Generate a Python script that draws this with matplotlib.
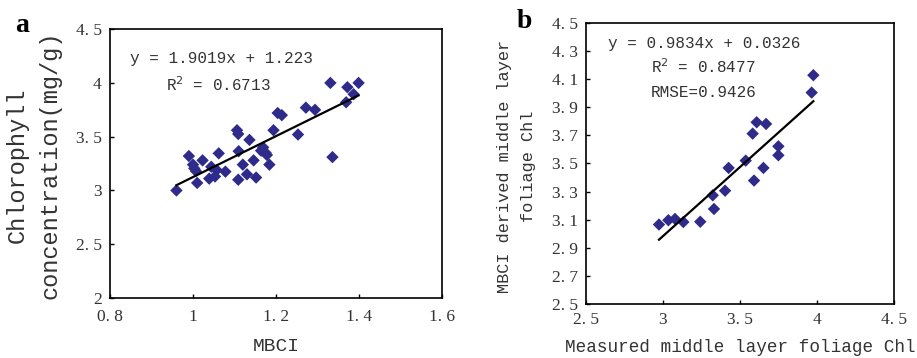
import matplotlib.pyplot as plt
import numpy as np

# panel a: MBCI vs chlorophyll concentration
mbci = [0.96, 0.99, 1.00, 1.003, 1.007, 1.01, 1.023, 1.039, 1.044, 1.053,
        1.057, 1.062, 1.078, 1.106, 1.109, 1.110, 1.109, 1.120, 1.130, 1.136,
        1.146, 1.152, 1.164, 1.169, 1.175, 1.178, 1.184, 1.194, 1.204, 1.214,
        1.253, 1.272, 1.294, 1.331, 1.336, 1.369, 1.372, 1.387, 1.399]
chl = [3.00, 3.32, 3.24, 3.205, 3.18, 3.07, 3.28, 3.11, 3.22, 3.13,
       3.19, 3.345, 3.175, 3.56, 3.525, 3.365, 3.10, 3.24, 3.15, 3.47,
       3.28, 3.12, 3.37, 3.40, 3.35, 3.33, 3.24, 3.56, 3.72, 3.70,
       3.52, 3.77, 3.75, 4.00, 3.31, 3.82, 3.96, 3.895, 4.00]
fit_a = (1.9019, 1.223)

# panel b: measured vs MBCI derived middle layer Chl
measured = [2.974, 3.035, 3.078, 3.132, 3.242, 3.323, 3.331, 3.403, 3.426, 3.537,
            3.582, 3.591, 3.608, 3.652, 3.669, 3.749, 3.749, 3.965, 3.976]
derived = [3.065, 3.096, 3.105, 3.083, 3.085, 3.273, 3.176, 3.306, 3.468, 3.520,
           3.712, 3.378, 3.793, 3.468, 3.781, 3.622, 3.558, 4.004, 4.128]
fit_b = (0.9834, 0.0326)

MONO = ['Liberation Mono', 'DejaVu Sans Mono']
SERIF = ['Liberation Serif', 'DejaVu Serif']
COL = '#2E2B8A'
TXT = '#333333'

fig = plt.figure(figsize=(9.17, 3.58), dpi=100)
ax1 = fig.add_axes([0.12, 0.1676, 0.362, 0.751])
ax2 = fig.add_axes([0.639, 0.151, 0.336, 0.785])


def style(ax, xt, yt, xfmt, yfmt, xpad, ypad):
    ax.set_xticks(xt)
    ax.set_yticks(yt)
    ax.set_xticklabels([xfmt(v) for v in xt], family=SERIF, fontsize=12.5, color=TXT)
    ax.set_yticklabels([yfmt(v) for v in yt], family=SERIF, fontsize=12.5, color=TXT)
    ax.tick_params(direction='in', length=3, width=1)
    ax.tick_params(axis='x', pad=xpad)
    ax.tick_params(axis='y', pad=ypad)
    for s in ax.spines.values():
        s.set_linewidth(1.2)


def lab(v):
    return f'{v:g}'.replace('.', '. ')


# panel a
ax1.scatter(mbci, chl, marker='D', s=40, color=COL, edgecolors='none', zorder=3)
xa = np.array([min(mbci), max(mbci)])
ax1.plot(xa, fit_a[0] * xa + fit_a[1], color='black', lw=1.6, zorder=4)
ax1.set_xlim(0.8, 1.6)
ax1.set_ylim(2, 4.5)
style(ax1, [0.8, 1.0, 1.2, 1.4, 1.6], [2, 2.5, 3, 3.5, 4, 4.5], lab, lab, 8, 6)
ax1.set_xlabel('MBCI', family=MONO, fontsize=14, color=TXT, labelpad=9)
ax1.text(-0.28, 0.494, 'Chlorophyll', transform=ax1.transAxes, rotation=90,
         ha='center', va='center', family=MONO, fontsize=17, color=TXT)
ax1.text(-0.181, 0.494, 'concentration(mg/g)', transform=ax1.transAxes, rotation=90,
         ha='center', va='center', family=MONO, fontsize=17, color=TXT)
ax1.text(0.06, 0.875, 'y = 1.9019x + 1.223', transform=ax1.transAxes,
         family=MONO, fontsize=11.5, color=TXT)
ax1.text(0.17, 0.77, 'R$^2$ = 0.6713', transform=ax1.transAxes,
         family=MONO, fontsize=11.5, color=TXT)
fig.text(0.016, 0.91, 'a', family=SERIF, fontweight='bold', fontsize=20)

# panel b
ax2.scatter(measured, derived, marker='D', s=40, color=COL, edgecolors='none', zorder=3)
xb = np.array([min(measured), max(measured)])
ax2.plot(xb, fit_b[0] * xb + fit_b[1], color='black', lw=1.6, zorder=4)
ax2.set_xlim(2.5, 4.5)
ax2.set_ylim(2.5, 4.5)
style(ax2, [2.5, 3, 3.5, 4, 4.5], [2.5, 2.7, 2.9, 3.1, 3.3, 3.5, 3.7, 3.9, 4.1, 4.3, 4.5],
      lab, lambda v: f'{v:.1f}'.replace('.', '. '), 6, 6)
ax2.set_xlabel('Measured middle layer foliage Chl', family=MONO, fontsize=12.7,
               color=TXT, labelpad=8)
ax2.text(-0.263, 0.491, 'MBCI derived middle layer', transform=ax2.transAxes,
         rotation=90, ha='center', va='center', family=MONO, fontsize=12.2, color=TXT)
ax2.text(-0.188, 0.491, 'foliage Chl', transform=ax2.transAxes,
         rotation=90, ha='center', va='center', family=MONO, fontsize=12.2, color=TXT)
ax2.text(0.07, 0.91, 'y = 0.9834x + 0.0326', transform=ax2.transAxes,
         family=MONO, fontsize=11.5, color=TXT)
ax2.text(0.21, 0.82, 'R$^2$ = 0.8477', transform=ax2.transAxes,
         family=MONO, fontsize=11.5, color=TXT)
ax2.text(0.21, 0.735, 'RMSE=0.9426', transform=ax2.transAxes,
         family=MONO, fontsize=11.5, color=TXT)
fig.text(0.563, 0.922, 'b', family=SERIF, fontweight='bold', fontsize=20)

fig.savefig('out.png', dpi=100)
